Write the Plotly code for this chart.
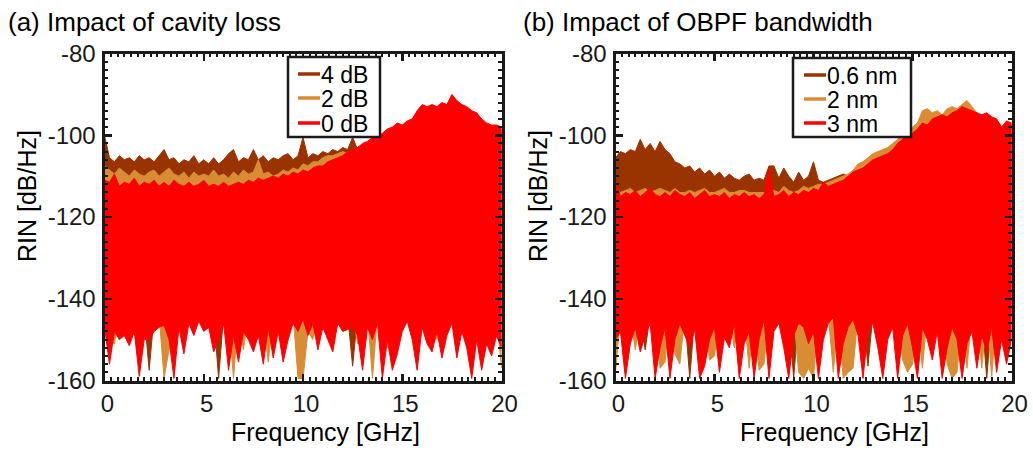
import numpy as np
import plotly.graph_objects as go

# Frequency grid (GHz), 0.25 GHz sampling of the read-off envelopes
FREQ_GHZ = np.round(np.arange(81) * 0.25, 2).tolist()

LEGEND_A = ["4 dB", "2 dB", "0 dB"]
LEGEND_B = ["0.6 nm", "2 nm", "3 nm"]
COLORS = ["#993300", "#D98C33", "#FF0000"]
X_TICKS = [0, 5, 10, 15, 20]
Y_TICKS = [-160, -140, -120, -100, -80]
Y_TICK_TEXT = ["-160", "-140", "-120", "-100", "-80"]

# ---------------- Panel (a): impact of cavity loss ----------------
# upper envelope (dB/Hz)
A4_TOP = [-100, -105.5, -106.5, -105, -106, -105.5, -106.5, -105, -106, -105.5,
          -106.5, -105, -103.5, -106, -105.5, -107, -106, -106.5, -105, -107,
          -106, -107, -105.5, -107, -106, -104.5, -103.5, -106.5, -105.5, -106,
          -103.5, -106, -105, -106.5, -105.5, -106, -105, -104.5, -106, -105,
          -100.5, -105.5, -104.5, -105, -104, -104.5, -103.5, -104, -103, -103.5,
          -100.5, -103.5, -102.5, -102, -101, -101, -100.5, -99.5, -99, -98,
          -98.5, -97.5, -97, -95, -93.5, -94, -93.5, -94, -93, -93.5,
          -91, -92.5, -93.5, -94, -95, -95.5, -97, -98, -98.5, -98.5,
          -99]
A2_TOP = [-107.5, -108.5, -109.5, -108, -109, -110, -108.5, -109.5, -110, -109,
          -108.5, -110, -109, -108, -109.5, -110, -109, -110.5, -109, -110,
          -109.5, -110, -108.5, -110, -109.5, -110.5, -109, -110, -108.5, -109.5,
          -109, -106, -109.5, -109, -110, -109.5, -108.5, -109, -108, -108.5,
          -107, -107.5, -106.5, -106.5, -105.5, -105, -105, -104.5, -104, -104.5,
          -104, -103.5, -102.5, -102, -101, -101, -100, -99, -98.5, -97.5,
          -98, -97, -96.5, -94.5, -93, -93.5, -93, -93.5, -92.5, -93,
          -90.5, -92, -93, -93.5, -94.5, -95, -96.5, -97.5, -98, -98,
          -98.5]
A0_TOP = [-111, -111.5, -109.5, -112.5, -111.5, -112, -110.5, -112.5, -111.5, -112,
          -111, -112.5, -111.5, -112.5, -111, -112, -112.5, -111.5, -112.5, -112,
          -111, -112.5, -112, -112.5, -111.5, -112.5, -112, -111.5, -112, -111,
          -111.5, -110.5, -111, -110.5, -110, -110.5, -109.5, -110, -109, -109.5,
          -108.5, -109, -108, -107.5, -107.5, -106.5, -106, -105.5, -105, -104,
          -103.5, -103, -102, -101.5, -100.5, -100.5, -99.5, -98.5, -98, -97,
          -97.5, -96.5, -96, -94, -92.5, -93, -92.5, -93, -92, -92.5,
          -90, -91.5, -92.5, -93, -94, -94.5, -96, -97, -97.5, -97.5,
          -98]
# lower envelope (dB/Hz)
A4_BOT = [-144, -144, -144, -144, -144, -144, -144, -144, -144, -157.5,
          -144, -144, -144, -144, -144, -144, -144, -144, -144, -144,
          -144, -144, -144, -159.5, -144, -144, -144, -144, -144, -144,
          -144, -144, -144, -144, -144, -144, -144, -144, -144, -144,
          -144, -144, -144, -144, -144, -144, -144, -144, -144, -144,
          -156.5, -144, -144, -144, -144, -144, -144, -144, -144, -144,
          -144, -144, -144, -144, -144, -144, -144, -144, -144, -144,
          -144, -144, -144, -144, -144, -144, -144, -144, -144, -144,
          -144]
A2_BOT = [-144, -150.5, -151, -144, -144, -144, -144, -144, -144, -144,
          -144, -144, -159.5, -152.5, -144, -144, -144, -144, -144, -144,
          -144, -144, -144, -144, -144, -144, -159.5, -144, -152.5, -144,
          -144, -144, -144, -155.5, -144, -144, -144, -144, -144, -159.5,
          -159.5, -148, -150, -144, -144, -144, -144, -144, -144, -144,
          -144, -151, -144, -144, -159.5, -144, -144, -152, -151, -144,
          -144, -144, -144, -144, -144, -144, -144, -150, -144, -144,
          -144, -144, -144, -144, -144, -144, -144, -144, -144, -144,
          -157]
A0_BOT = [-147, -156, -148, -150, -149, -151.5, -148, -159, -150, -150,
          -148, -147, -146.5, -150, -159.5, -147, -153.5, -146, -149, -145.5,
          -148, -147, -153, -150, -146, -157.5, -149, -155.5, -148, -150,
          -153, -149, -156, -147, -154.5, -148, -155.5, -150, -146, -148,
          -145, -149, -146, -152.5, -147, -150, -153, -146, -148, -147.5,
          -147, -149, -157.5, -147, -150, -146, -159.5, -150, -157.5, -153.5,
          -148, -145.5, -150, -157.5, -147, -151, -153, -148, -154.5, -149,
          -146, -154.5, -148, -152, -159.5, -150, -157.5, -151, -154, -149,
          -152]

# ---------------- Panel (b): impact of OBPF bandwidth ----------------
B06_TOP = [-105.5, -104, -104.5, -103.5, -104, -101, -103.5, -102, -104, -101.5,
           -103.5, -104.5, -106.5, -107, -108, -107.5, -109, -108, -109.5, -108.5,
           -110, -109, -110.5, -109.5, -110.5, -111, -110, -109.5, -111, -110.5,
           -111, -107.5, -107.5, -110.5, -108, -110, -111.5, -109, -111, -110,
           -106.5, -111, -111.5, -111, -110.5, -110, -109.5, -110, -109, -108.5,
           -108.5, -107.5, -106.5, -106, -105.5, -105, -104, -102.5, -101.5, -100.5,
           -100, -99, -97.5, -98, -96.5, -96, -95.5, -96, -95, -94.5,
           -93.5, -94, -94.5, -95, -95.5, -95, -96, -96.5, -98.5, -97,
           -97.5]
B2_TOP = [-113, -114, -113.5, -113, -114, -113.5, -113, -114, -113.5, -113,
          -113.5, -114, -113, -114, -114, -113.5, -114, -113.5, -113, -114,
          -114, -113.5, -113, -114, -114, -113.5, -113.5, -114, -114, -114,
          -114, -113, -113.5, -114, -112.5, -113.5, -114, -113.5, -112.5, -113,
          -112.5, -112, -112, -111.5, -111, -110.5, -110, -109.5, -108.5, -107,
          -106.5, -105.5, -104.5, -104, -103.5, -103, -102, -101, -100, -99,
          -98, -97, -94, -93.5, -94.5, -94, -95, -93.5, -93, -93.5,
          -92.5, -91.5, -93, -94.5, -95.5, -95, -96, -97, -99, -98,
          -98.5]
B3_TOP = [-111, -115, -114, -114.5, -113.5, -115, -114, -113, -114.5, -115,
          -114, -115, -113.5, -114.5, -115, -114, -115.5, -114.5, -113.5, -115,
          -114.5, -115, -114, -115.5, -114.5, -115, -114, -115, -114.5, -115.5,
          -114.5, -108, -115, -114.5, -113.5, -115, -114, -114.5, -113.5, -114,
          -113, -113.5, -111.5, -112.5, -112, -111.5, -111, -110, -109, -108.5,
          -108, -107, -106, -105.5, -105, -104.5, -103.5, -102, -101, -100,
          -99.5, -98.5, -97, -97.5, -96, -95.5, -95, -95.5, -94.5, -94,
          -93, -93.5, -94, -94.5, -95, -94.5, -95.5, -96, -98, -96.5,
          -97]
B06_BOT = [-144, -144, -144, -144, -144, -144, -152.5, -144, -144, -144,
           -144, -144, -144, -144, -144, -159.5, -144, -144, -144, -144,
           -144, -144, -144, -144, -144, -144, -144, -144, -144, -144,
           -144, -144, -144, -144, -144, -144, -159.5, -144, -144, -144,
           -144, -144, -144, -144, -144, -144, -144, -144, -144, -144,
           -144, -156.5, -144, -144, -144, -144, -144, -144, -144, -144,
           -144, -144, -144, -144, -144, -144, -144, -144, -144, -144,
           -144, -144, -144, -144, -144, -159.5, -144, -144, -144, -144,
           -144]
B2_BOT = [-158, -144, -144, -144, -152.5, -144, -144, -144, -144, -157,
          -155.5, -144, -153.5, -156, -144, -144, -144, -144, -144, -155,
          -154, -144, -144, -144, -152, -144, -144, -157, -144, -157.5,
          -156, -144, -144, -144, -144, -144, -144, -158, -159.5, -157,
          -159.5, -144, -144, -144, -158, -144, -159.5, -158, -157, -144,
          -144, -144, -144, -144, -144, -144, -144, -144, -155, -158,
          -156, -144, -157, -144, -144, -144, -144, -156, -159.5, -158,
          -144, -157, -144, -144, -157, -144, -159, -144, -144, -144,
          -144]
B3_BOT = [-150, -148, -159.5, -151, -147, -153, -149, -146, -159.5, -152,
          -147, -159.5, -150, -146, -149, -152, -147.5, -159.5, -156.5, -150,
          -147, -158, -149.5, -152, -146, -159.5, -151, -148, -159.5, -150,
          -145, -159.5, -148, -146, -152, -159.5, -149, -146, -147, -151,
          -148, -159.5, -150, -146, -144.5, -159.5, -151, -147, -145, -149,
          -159.5, -148, -146, -152, -159.5, -150, -147, -159.5, -149, -146,
          -152, -159.5, -147, -150, -155, -148, -159.5, -152, -147, -150,
          -159.5, -151, -148, -157, -149, -153, -147, -158, -150, -156,
          -150]

PANEL_A = [(A4_TOP, A4_BOT), (A2_TOP, A2_BOT), (A0_TOP, A0_BOT)]
PANEL_B = [(B06_TOP, B06_BOT), (B2_TOP, B2_BOT), (B3_TOP, B3_BOT)]

for top, bot in PANEL_A + PANEL_B:
    assert len(top) == len(FREQ_GHZ) and len(bot) == len(FREQ_GHZ)

FONT = "Liberation Sans, Arial, sans-serif"
INK = "#1a1a1a"
# the page body margin is removed (post_script below), so the figure fills
# the 1033x450 window exactly
W, H = 1033, 450


def px(x):
    return x / W


def py(y):
    return 1 - y / H


def band(top, bot, color, xa, ya, name, group):
    x = FREQ_GHZ + FREQ_GHZ[::-1]
    y = list(top) + list(bot)[::-1]
    return go.Scatter(x=x, y=y, mode="lines", fill="toself", fillcolor=color,
                      line=dict(color=color, width=1), xaxis=xa, yaxis=ya,
                      name=name, legendgroup=group, showlegend=False, hoverinfo="skip")


fig = go.Figure()
for (top, bot), color, name in zip(PANEL_A, COLORS, LEGEND_A):
    fig.add_trace(band(top, bot, color, "x", "y", name, "a"))
for (top, bot), color, name in zip(PANEL_B, COLORS, LEGEND_B):
    fig.add_trace(band(top, bot, color, "x2", "y2", name, "b"))


def xaxis(dom, anchor):
    return dict(domain=dom, anchor=anchor, range=[0, 20], tickmode="array",
                tickvals=X_TICKS, ticks="inside", ticklen=7, tickwidth=2.5,
                tickcolor=INK, showline=True, linecolor=INK, linewidth=3, mirror="ticks",
                showgrid=False, zeroline=False, automargin=False,
                minor=dict(dtick=1 / 3, tick0=0, ticks="inside", ticklen=3.5,
                           tickwidth=2, tickcolor=INK, showgrid=False),
                tickfont=dict(family=FONT, size=24, color=INK), ticklabelstandoff=0,
                ticklabelshift=3, ticklabeloverflow="allow")


def yaxis(anchor):
    return dict(domain=[py(380.5), py(53.5)], anchor=anchor, range=[-160, -80],
                tickmode="array", tickvals=Y_TICKS, ticktext=Y_TICK_TEXT, ticks="inside",
                ticklen=7, tickwidth=2.5, tickcolor=INK, showline=True, linecolor=INK,
                linewidth=3, mirror="ticks", showgrid=False, zeroline=False,
                automargin=False, ticklabeloverflow="allow",
                minor=dict(dtick=2, tick0=-160, ticks="inside", ticklen=3.5,
                           tickwidth=2, tickcolor=INK, showgrid=False),
                tickfont=dict(family=FONT, size=24, color=INK), ticklabelstandoff=1)


annotations = []
shapes = []


def text(t, x, y, size, xanchor="center", angle=0):
    annotations.append(dict(text=t, xref="paper", yref="paper", x=px(x), y=py(y),
                            xanchor=xanchor, yanchor="middle", showarrow=False,
                            textangle=angle, font=dict(family=FONT, size=size, color="black")))


# panel titles and axis titles
text("(a) Impact of cavity loss", 6, 22, 26, xanchor="left")
text("(b) Impact of OBPF bandwidth", 521, 22, 26, xanchor="left")
text("Frequency [GHz]", 325, 432, 25)
text("Frequency [GHz]", 834, 432, 25)
text("RIN [dB/Hz]", 27, 196, 25, angle=-90)
text("RIN [dB/Hz]", 538, 196, 25, angle=-90)


# legends (boxed, line samples + labels)
def legend(names, box, x_line, ys, x_text):
    x0, y0, x1, y1 = box
    shapes.append(dict(type="rect", xref="paper", yref="paper", x0=px(x0), x1=px(x1),
                       y0=py(y1), y1=py(y0), line=dict(color=INK, width=2.5),
                       fillcolor="white", layer="above"))
    for name, color, y in zip(names, COLORS, ys):
        shapes.append(dict(type="line", xref="paper", yref="paper", x0=px(x_line[0]),
                           x1=px(x_line[1]), y0=py(y), y1=py(y),
                           line=dict(color=color, width=3.5), layer="above"))
        text(name, x_text, y + 1, 23, xanchor="left")


legend(LEGEND_A, (288, 57, 380, 137), (298, 320), (74, 98, 123), 319)
legend(LEGEND_B, (793, 58, 911, 137), (804, 826), (75, 99, 123), 825)

fig.update_layout(
    width=W, height=H, autosize=False,
    margin=dict(l=0, r=0, t=0, b=0, autoexpand=False),
    paper_bgcolor="white", plot_bgcolor="white",
    showlegend=False, hovermode=False,
    xaxis=xaxis([px(104.5), px(501.5)], "y"),
    yaxis=yaxis("x"),
    xaxis2=xaxis([px(615.5), px(1011.5)], "y2"),
    yaxis2=yaxis("x2"),
    annotations=annotations,
    shapes=shapes,
)

fig.write_html(
    "out.html",
    config={"displayModeBar": False, "staticPlot": True},
    post_script="document.body.style.margin='0px';document.body.style.overflow='hidden';",
)
